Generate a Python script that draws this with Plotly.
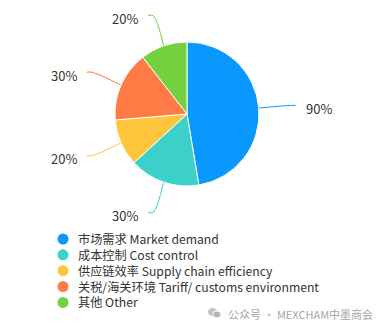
import numpy as np
import plotly.graph_objects as go

# ---- data ----
categories = [
    "市场需求 Market demand",
    "成本控制 Cost control",
    "供应链效率 Supply chain efficiency",
    "关税/海关环境 Tariff/ customs environment",
    "其他 Other",
]
values = [90, 30, 20, 30, 20]
label_texts = ["90%", "30%", "20%", "30%", "20%"]
colors = ["#0A98FF", "#3BD0C9", "#FFC53D", "#FF7A45", "#73D13D"]

# ---- layout constants (pixels) ----
W, H = 376, 329
cx, cy, r = 187, 114, 72
L1, L2, gap = 32, 5, 8
FONT = "Noto Sans CJK SC, Microsoft YaHei, sans-serif"
TXT = "#333333"
LEG_SIZE = 12.2

fig = go.Figure()

fig.add_trace(go.Pie(
    values=values, labels=categories, sort=False, direction="clockwise",
    rotation=0, textinfo="none", hoverinfo="label+value", showlegend=False,
    marker=dict(colors=colors, line=dict(color="white", width=1)),
    domain=dict(x=[(cx - r) / W, (cx + r) / W],
                y=[1 - (cy + r) / H, 1 - (cy - r) / H]),
))

# leader lines + labels computed from the data
total = sum(values)
cum = 0.0
for v, c, t in zip(values, colors, label_texts):
    mid = (cum + v / 2) / total * 2 * np.pi
    cum += v
    dx, dy = np.sin(mid), -np.cos(mid)
    x0, y0 = cx + r * dx, cy + r * dy
    x1, y1 = cx + (r + L1) * dx, cy + (r + L1) * dy
    side = 1 if dx >= 0 else -1
    x2, y2 = x1 + side * L2, y1
    fig.add_trace(go.Scatter(
        x=[x0, x1, x2], y=[y0, y1, y2], mode="lines",
        line=dict(color=c, width=1, shape="spline"),
        hoverinfo="skip", showlegend=False,
    ))
    fig.add_annotation(
        x=x2 + side * gap, y=y2 + 3, text=t, showarrow=False,
        xanchor="left" if side > 0 else "right", yanchor="middle",
        font=dict(family=FONT, size=13, color=TXT),
    )

# custom legend (circle markers + one multi-line text block)
lx, ly0 = 63, 239
ldy = LEG_SIZE * 1.3
n = len(categories)
leg_y = [ly0 + i * ldy for i in range(n)]
fig.add_trace(go.Scatter(
    x=[lx] * n, y=leg_y, mode="markers",
    marker=dict(color=colors, size=11, symbol="circle"),
    hoverinfo="skip", showlegend=False,
))
fig.add_annotation(
    x=lx + 13, y=(leg_y[0] + leg_y[-1]) / 2, text="<br>".join(categories),
    showarrow=False, xanchor="left", yanchor="middle", align="left",
    font=dict(family=FONT, size=LEG_SIZE, color=TXT),
)

# watermark
fig.add_shape(type="circle", x0=208, x1=217, y0=308, y1=316,
              fillcolor="#c4c4c4", line=dict(width=0))
fig.add_shape(type="circle", x0=213, x1=221, y0=311, y1=318,
              fillcolor="#b4b4b4", line=dict(color="white", width=1))
fig.add_annotation(
    x=226, y=313.5, text="公众号 · MEXCHAM中墨商会", showarrow=False,
    xanchor="left", yanchor="middle",
    font=dict(family=FONT, size=11, color="#a6a6a6"),
)

fig.update_layout(
    width=W, height=H, margin=dict(l=0, r=0, t=0, b=0),
    paper_bgcolor="white", plot_bgcolor="white",
    xaxis=dict(range=[0, W], visible=False, fixedrange=True, domain=[0, 1]),
    yaxis=dict(range=[H, 0], visible=False, fixedrange=True, domain=[0, 1]),
    showlegend=False,
)

fig.write_html("out.html")
